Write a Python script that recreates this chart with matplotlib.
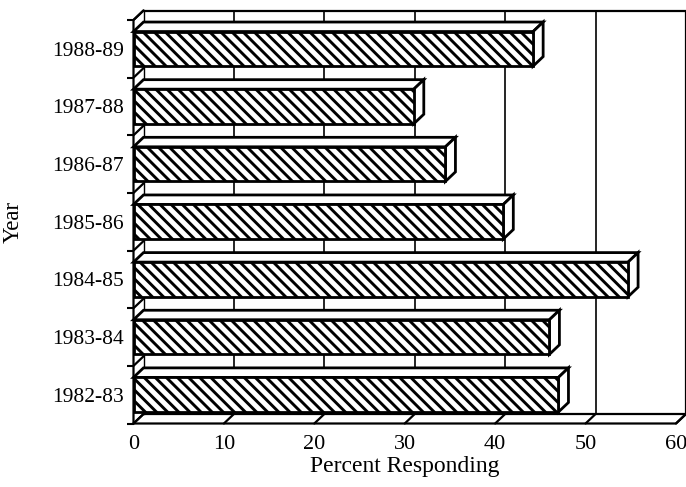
import matplotlib
matplotlib.use("Agg")
import matplotlib.pyplot as plt
from matplotlib.patches import Polygon, Rectangle

years = ["1982-83", "1983-84", "1984-85", "1985-86", "1986-87", "1987-88", "1988-89"]
percent = [47.0, 46.0, 54.7, 40.9, 34.5, 31.0, 44.2]
xticks = [0, 10, 20, 30, 40, 50, 60]

plt.rcParams['font.family'] = ['Liberation Serif', 'DejaVu Serif']
plt.rcParams['hatch.linewidth'] = 2.1

W, H = 686, 487
fig = plt.figure(figsize=(W / 100, H / 100), dpi=100)
x0, x1 = 133.5, 676.0
ytop, ybot = 20.0, 423.5
ax = fig.add_axes([x0 / W, (H - ybot) / H, (x1 - x0) / W, (ybot - ytop) / H])
ax.set_xlim(0, 60)
ax.set_ylim(-0.5, 6.5)
for s in ax.spines.values():
    s.set_visible(False)

# depth in data units
DX = 10.0 / ((x1 - x0) / 60)
DY = 9.5 / ((ybot - ytop) / 7)
lw = 1.6
k = dict(color='black', lw=lw, clip_on=False, solid_capstyle='round')

# back wall
ax.plot([DX, 60 + DX, 60 + DX], [6.5 + DY, 6.5 + DY, -0.5 + DY], **k, zorder=1)
ax.plot([DX, DX], [-0.5 + DY, 6.5 + DY], color='black', lw=1.0, clip_on=False, zorder=1)
# back grid lines
for t in xticks[1:-1]:
    ax.plot([t + DX, t + DX], [-0.5 + DY, 6.5 + DY], color='black', lw=1.2, clip_on=False, zorder=1)
# floor
ax.plot([0, 60, 60 + DX], [-0.5, -0.5, -0.5 + DY], **k, zorder=2)
ax.plot([DX, 60 + DX], [-0.5 + DY, -0.5 + DY], **k, zorder=1)
for t in xticks:
    ax.plot([t, t + DX], [-0.5, -0.5 + DY], **k, zorder=2)
# left wall
ax.plot([0, 0, DX], [-0.5, 6.5, 6.5 + DY], **k, zorder=6)
for b in range(len(years) + 1):
    yb = b - 0.5
    ax.plot([0, DX], [yb, yb + DY], **k, zorder=2)

# bars
hh = 0.3
for i, v in enumerate(percent):
    front = Rectangle((0, i - hh), v, 2 * hh, facecolor='white', edgecolor='black',
                      hatch='\\\\\\', lw=2.0, zorder=5, clip_on=False)
    ax.add_patch(front)
    top = Polygon([(0, i + hh), (DX, i + hh + DY), (v + DX, i + hh + DY), (v, i + hh)],
                  closed=True, facecolor='white', edgecolor='black', lw=2.0, zorder=4, clip_on=False)
    side = Polygon([(v, i - hh), (v, i + hh), (v + DX, i + hh + DY), (v + DX, i - hh + DY)],
                   closed=True, facecolor='white', edgecolor='black', lw=2.0, zorder=4, clip_on=False)
    ax.add_patch(top)
    ax.add_patch(side)

# ticks
ax.set_yticks(range(len(years)))
ax.set_yticklabels(years, fontsize=15.5)
ax.set_yticks([b - 0.5 for b in range(len(years) + 1)], minor=True)
ax.tick_params(axis='y', which='major', length=0, pad=7)
ax.tick_params(axis='y', which='minor', length=5, width=1.5, direction='out')
ax.set_xticks(xticks)
ax.set_xticklabels([str(t) for t in xticks], fontsize=16)
ax.tick_params(axis='x', which='major', length=0, pad=8)

ax.set_xlabel("Percent Responding", fontsize=17, labelpad=2)
ax.set_ylabel("Year", fontsize=16.5, labelpad=20)

fig.savefig("out.png", dpi=100)
